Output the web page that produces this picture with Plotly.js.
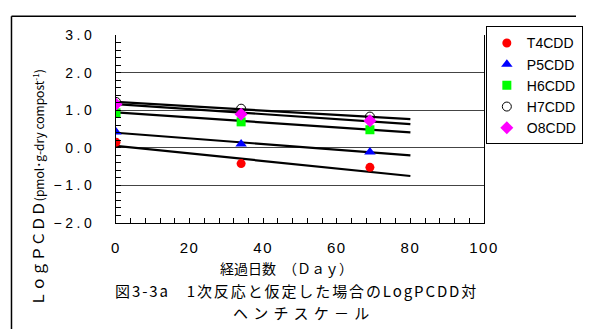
<!DOCTYPE html>
<html><head><meta charset="utf-8">
<script src="https://cdn.plot.ly/plotly-3.0.1.min.js"></script>
<style>
html,body{margin:0;padding:0;background:#fff;}
.ytick text{letter-spacing:3.5px;}
.xtick text{letter-spacing:1.5px;}
</style>
</head><body>
<div id="chart" style="width:595px;height:329px;"></div>
<script>
const days = [0, 34, 69];
const seriesNames = ['T4CDD', 'P5CDD', 'H6CDD', 'H7CDD', 'O8CDD'];
const T4CDD = [0.15, -0.42, -0.52];
const P5CDD = [0.42, 0.10, -0.11];
const H6CDD = [0.93, 0.69, 0.48];
const H7CDD = [1.22, 1.04, 0.83];
const O8CDD = [1.16, 0.89, 0.72];
const fitDays = [0, 80];
const fitStart = [0.05, 0.40, 0.94, 1.22, 1.16];
const fitEnd = [-0.75, -0.20, 0.41, 0.76, 0.63];

const seriesValues = [T4CDD, P5CDD, H6CDD, H7CDD, O8CDD];
const markerStyles = [
  {symbol:'circle', color:'#ff0000', size:9, line:{width:0}},
  {symbol:'triangle-up', color:'#0000ff', size:10, line:{width:0}},
  {symbol:'square', color:'#00ff00', size:9, line:{width:0}},
  {symbol:'circle-open', color:'#000000', size:9, line:{width:1, color:'#000'}},
  {symbol:'diamond', color:'#ff00ff', size:10, line:{width:0}}
];
const traces = [];
for (let i = 0; i < seriesNames.length; i++) {
  traces.push({x: fitDays, y: [fitStart[i], fitEnd[i]], mode:'lines', showlegend:false,
    line:{color:'#000', width:2.2}, hoverinfo:'skip'});
}
for (let i = 0; i < seriesNames.length; i++) {
  traces.push({x: days, y: seriesValues[i], mode:'markers', name: seriesNames[i], marker: markerStyles[i]});
}
const lat = 'Liberation Sans, Arial, sans-serif';
const jp = 'Noto Sans CJK JP, sans-serif';
const layout = {
  width:595, height:329,
  margin:{l:116, r:97, t:35, b:106, pad:0},
  paper_bgcolor:'#fff', plot_bgcolor:'#fff',
  showlegend:true,
  xaxis:{range:[0,100], dtick:20, tick0:0, ticks:'inside', ticklen:5, tickcolor:'#000',
    minor:{dtick:4, ticks:'inside', ticklen:5, tickcolor:'#000', showgrid:false},
    showline:true, linecolor:'#000', linewidth:1, showgrid:false, zeroline:false,
    tickfont:{family:lat, size:15, color:'#000'}, ticklabelstandoff:11},
  yaxis:{range:[-2,3], dtick:1, tick0:0, tickformat:'.1f', ticks:'inside', ticklen:5, tickcolor:'#000',
    minor:{dtick:0.2, ticks:'inside', ticklen:5, tickcolor:'#000', showgrid:false},
    showline:true, mirror:true, linecolor:'#000', linewidth:1,
    showgrid:true, gridcolor:'#444', gridwidth:1, zeroline:false,
    tickfont:{family:lat, size:14, color:'#000'}, ticklabelstandoff:17},
  legend:{x:1.005, y:1.046, xanchor:'left', yanchor:'top', bordercolor:'#000', borderwidth:1,
    bgcolor:'#fff', font:{family:lat, size:14, color:'#000'}, tracegroupgap:0},
  annotations:[
    {xref:'paper', yref:'paper', x:0.462, y:-0.238, text:'経過日数　（Ｄａｙ）', showarrow:false, borderpad:0,
      xanchor:'center', yanchor:'middle', font:{family:jp, size:14, color:'#000'}},
    {xref:'paper', yref:'paper', x:-0.215, y:0.19, textangle:-90,
      text:'<span style="font-size:15px">ＬｏｇＰＣＤＤ</span>(pmol･g-dry compost<sup>-1</sup>)', showarrow:false,
      xanchor:'center', yanchor:'middle', font:{family:jp, size:12, color:'#000'}},
    {xref:'paper', yref:'paper', x:0.49, y:-0.357, borderpad:0,
      text:'<span style="letter-spacing:1.9px">図3-3a　1次反応と仮定した場合のLogPCDD対</span>',
      showarrow:false, xanchor:'center', yanchor:'middle', font:{family:jp, size:15, color:'#000'}},
    {xref:'paper', yref:'paper', x:0.51, y:-0.474, borderpad:0,
      text:'<span style="letter-spacing:5.2px">ヘンチスケ－ル</span>',
      showarrow:false, xanchor:'center', yanchor:'middle', font:{family:jp, size:15, color:'#000'}}
  ],
  shapes:[
    {type:'line', xref:'paper', yref:'paper', x0:-0.284, x1:-0.284, y0:1.0995, y1:-0.6, line:{color:'#000', width:1.5}},
    {type:'line', xref:'paper', yref:'paper', x0:-0.284, x1:1.25, y0:1.0995, y1:1.0995, line:{color:'#000', width:1.5}}
  ]
};
Plotly.newPlot('chart', traces, layout, {staticPlot:true, displayModeBar:false});
</script>
</body></html>
